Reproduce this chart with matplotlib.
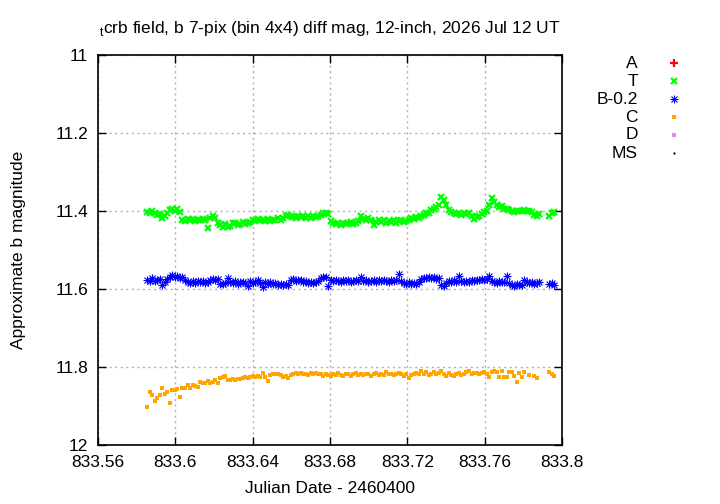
import numpy as np
import matplotlib
matplotlib.use("Agg")
import matplotlib.pyplot as plt
from matplotlib.lines import Line2D
from matplotlib.ticker import FuncFormatter, FixedLocator

plt.rcParams['font.family'] = ['Liberation Sans', 'DejaVu Sans']
plt.rcParams['mathtext.fontset'] = 'custom'
plt.rcParams['mathtext.rm'] = 'Liberation Sans'

# time offsets in units of 1e-4 day from JD 2460833.5 (displayed as JD - 2460400)
t_e4 = [855, 868, 881, 894, 907, 920, 933, 946, 959, 972,
        985, 998, 1011, 1024, 1037, 1050, 1063, 1076, 1089, 1102,
        1115, 1128, 1141, 1154, 1167, 1180, 1193, 1206, 1219, 1232,
        1245, 1258, 1271, 1284, 1297, 1310, 1323, 1336, 1349, 1362,
        1375, 1388, 1401, 1414, 1427, 1440, 1453, 1466, 1479, 1492,
        1505, 1518, 1531, 1544, 1557, 1570, 1583, 1596, 1609, 1622,
        1635, 1648, 1661, 1674, 1687, 1700, 1713, 1726, 1739, 1752,
        1765, 1778, 1791, 1804, 1817, 1830, 1843, 1856, 1869, 1882,
        1895, 1908, 1921, 1934, 1947, 1960, 1973, 1986, 1999, 2012,
        2025, 2038, 2051, 2064, 2077, 2090, 2103, 2116, 2129, 2142,
        2155, 2168, 2181, 2194, 2207, 2220, 2233, 2246, 2259, 2272,
        2285, 2298, 2311, 2324, 2337, 2350, 2363, 2376, 2389, 2402,
        2415, 2428, 2441, 2454, 2467, 2480, 2493, 2506, 2519, 2532,
        2545, 2558, 2571, 2584, 2597, 2610, 2623, 2636, 2649, 2662,
        2675, 2688, 2701, 2714, 2727, 2740, 2753, 2766, 2779, 2792,
        2805, 2818, 2831, 2844, 2857, 2870, 2883,
        2935, 2948, 2961]

mag_T = [11.402, 11.406, 11.400, 11.405, 11.410, 11.408, 11.418, 11.414, 11.404, 11.398,
         11.396, 11.400, 11.394, 11.402, 11.422, 11.425, 11.420, 11.424, 11.421, 11.426,
         11.422, 11.424, 11.420, 11.423, 11.444, 11.418, 11.414, 11.418, 11.430, 11.436,
         11.440, 11.434, 11.442, 11.438, 11.432, 11.430, 11.435, 11.433, 11.428, 11.434,
         11.431, 11.428, 11.422, 11.425, 11.420, 11.424, 11.422, 11.426, 11.420, 11.425,
         11.422, 11.424, 11.419, 11.423, 11.418, 11.414, 11.410, 11.412, 11.415, 11.418,
         11.412, 11.416, 11.414, 11.419, 11.413, 11.417, 11.412, 11.416, 11.414, 11.410,
         11.405, 11.404, 11.408, 11.426, 11.430, 11.434, 11.432, 11.435, 11.430, 11.434,
         11.432, 11.428, 11.433, 11.430, 11.426, 11.414, 11.420, 11.422, 11.419, 11.424,
         11.437, 11.428, 11.424, 11.428, 11.422, 11.430, 11.425, 11.428, 11.424, 11.430,
         11.426, 11.424, 11.428, 11.425, 11.422, 11.418, 11.420, 11.416, 11.418, 11.412,
         11.410, 11.406, 11.404, 11.398, 11.395, 11.390, 11.384, 11.364, 11.372, 11.385,
         11.398, 11.402, 11.405, 11.408, 11.404, 11.410, 11.406, 11.408, 11.404, 11.412,
         11.420, 11.416, 11.412, 11.408, 11.402, 11.400, 11.385, 11.366, 11.376, 11.384,
         11.390, 11.388, 11.394, 11.396, 11.398, 11.400, 11.402, 11.399, 11.401, 11.400,
         11.398, 11.401, 11.399, 11.403, 11.410, 11.412, 11.408,
         11.412, 11.405, 11.402]

mag_B = [11.576, 11.579, 11.573, 11.580, 11.577, 11.575, 11.591, 11.582, 11.574, 11.568,
         11.565, 11.570, 11.566, 11.572, 11.569, 11.576, 11.582, 11.585, 11.580, 11.584,
         11.579, 11.583, 11.580, 11.584, 11.581, 11.576, 11.574, 11.578, 11.575, 11.586,
         11.588, 11.584, 11.573, 11.582, 11.585, 11.580, 11.586, 11.583, 11.581, 11.585,
         11.592, 11.580, 11.585, 11.582, 11.578, 11.584, 11.595, 11.581, 11.586, 11.583,
         11.588, 11.585, 11.590, 11.587, 11.591, 11.586, 11.589, 11.577, 11.575, 11.579,
         11.576, 11.578, 11.583, 11.580, 11.584, 11.581, 11.585, 11.582, 11.579, 11.572,
         11.568, 11.570, 11.593, 11.578, 11.580, 11.576, 11.579, 11.581, 11.577, 11.580,
         11.578, 11.582, 11.579, 11.576, 11.580, 11.569, 11.580, 11.578, 11.582, 11.579,
         11.577, 11.581, 11.578, 11.580, 11.576, 11.579, 11.582, 11.578, 11.580, 11.576,
         11.561, 11.580, 11.585, 11.588, 11.583, 11.586, 11.584, 11.587, 11.582, 11.574,
         11.571, 11.573, 11.569, 11.572, 11.570, 11.574, 11.571, 11.589, 11.592, 11.584,
         11.580, 11.582, 11.578, 11.581, 11.567, 11.580, 11.583, 11.579, 11.581, 11.577,
         11.579, 11.576, 11.578, 11.575, 11.577, 11.574, 11.567, 11.580, 11.582, 11.585,
         11.580, 11.583, 11.581, 11.566, 11.584, 11.590, 11.592, 11.588, 11.591, 11.589,
         11.578, 11.582, 11.585, 11.581, 11.587, 11.584, 11.582,
         11.588, 11.585, 11.590]

mag_C = [11.903, 11.865, 11.873, 11.887, 11.880, 11.873, 11.855, 11.869, 11.865, 11.893,
         11.860, 11.858, 11.857, 11.876, 11.855, 11.855, 11.847, 11.853, 11.845, 11.848,
         11.850, 11.838, 11.842, 11.842, 11.837, 11.842, 11.839, 11.833, 11.841, 11.829,
         11.825, 11.822, 11.833, 11.834, 11.832, 11.833, 11.831, 11.831, 11.829, 11.826,
         11.828, 11.825, 11.824, 11.826, 11.823, 11.825, 11.815, 11.826, 11.837, 11.820,
         11.818, 11.819, 11.817, 11.820, 11.825, 11.823, 11.827, 11.820, 11.817, 11.816,
         11.818, 11.815, 11.819, 11.817, 11.820, 11.816, 11.818, 11.815, 11.817, 11.818,
         11.822, 11.817, 11.820, 11.824, 11.818, 11.821, 11.816, 11.820, 11.823, 11.817,
         11.819, 11.822, 11.818, 11.816, 11.820, 11.818, 11.821, 11.817, 11.819, 11.822,
         11.818, 11.816, 11.820, 11.817, 11.821, 11.814, 11.819, 11.817, 11.820, 11.818,
         11.816, 11.819, 11.822, 11.818, 11.828, 11.820, 11.817, 11.815, 11.819, 11.809,
         11.818, 11.814, 11.821, 11.817, 11.812, 11.819, 11.816, 11.810, 11.818, 11.822,
         11.816, 11.820, 11.824, 11.818, 11.815, 11.821, 11.819, 11.814, 11.809, 11.818,
         11.816, 11.815, 11.817, 11.816, 11.814, 11.818, 11.826, 11.812, 11.811, 11.813,
         11.826, 11.810, 11.825, 11.826, 11.814, 11.813, 11.822, 11.839, 11.816, 11.826,
         11.812, np.nan, 11.820, np.nan, 11.822, 11.828, np.nan,
         11.814, 11.817, 11.822]

legend_labels = ['A', 'T', 'B-0.2', 'C', 'D', 'MS']
x_ticks = [833.56, 833.60, 833.64, 833.68, 833.72, 833.76, 833.80]
y_ticks = [11.0, 11.2, 11.4, 11.6, 11.8, 12.0]

jd = 833.5 + np.array(t_e4) * 1e-4

fig = plt.figure(figsize=(7.2, 5.04), dpi=100)
ax = fig.add_axes([98/720, 1 - 445/504, (562-98)/720, (445-55)/504])

styles = {
    'A': [dict(marker='+', color='#ff0000', ms=5.5, mew=1.6, ls='none')],
    'T': [dict(marker='x', color='#00ff00', ms=4.8, mew=1.6, ls='none')],
    'B-0.2': [dict(marker='+', color='#0000ff', ms=6.0, mew=0.8, ls='none'),
              dict(marker='x', color='#0000ff', ms=4.6, mew=0.8, ls='none')],
    'C': [dict(marker='s', color='#ffa500', ms=2.6, mew=0, ls='none')],
    'D': [dict(marker='s', color='#ee82ee', ms=3.0, mew=0, ls='none')],
    'MS': [dict(marker='o', color='#000000', ms=1.6, mew=0, ls='none')],
}

for st in styles['T']:
    ax.plot(jd, mag_T, **st)
for st in styles['B-0.2']:
    ax.plot(jd, mag_B, **st)
for st in styles['C']:
    ax.plot(jd, mag_C, **st)

ax.set_xlim(833.56, 833.80)
ax.set_ylim(12.0, 11.0)
ax.xaxis.set_major_locator(FixedLocator(x_ticks))
ax.yaxis.set_major_locator(FixedLocator(y_ticks))
ax.xaxis.set_major_formatter(FuncFormatter(lambda v, p: '%g' % round(v, 4)))
ax.yaxis.set_major_formatter(FuncFormatter(lambda v, p: '%g' % round(v, 4)))
ax.tick_params(direction='in', length=6, width=1, top=True, right=True,
               labelsize=12.5, pad=7, colors='black')
ax.grid(True, color='#b0b0b0', linestyle=(0, (1.5, 2.5)), linewidth=1)
for s in ax.spines.values():
    s.set_linewidth(1.2)
    s.set_color('black')

ax.set_xlabel('Julian Date - 2460400', fontsize=12.5, labelpad=8)
ax.set_ylabel('Approximate b magnitude', fontsize=12.5, labelpad=21)
ax.set_title(r'$_{\mathrm{t}}$crb field, b 7-pix (bin 4x4) diff mag, 12-inch, 2026 Jul 12 UT',
             fontsize=12.5, pad=16)

# legend (gnuplot style: right-aligned labels, marker to the right)
ys = [63, 81, 99, 117, 135, 153]
for lab, yy in zip(legend_labels, ys):
    fig.text(638/720, 1 - yy/504, lab, ha='right', va='center', fontsize=12.5)
    for st in styles[lab]:
        fig.add_artist(Line2D([674/720], [1 - yy/504], transform=fig.transFigure,
                              marker=st['marker'], color=st['color'], ms=st['ms'],
                              mew=st['mew'], ls='none'))

fig.savefig('out.png', dpi=100)
